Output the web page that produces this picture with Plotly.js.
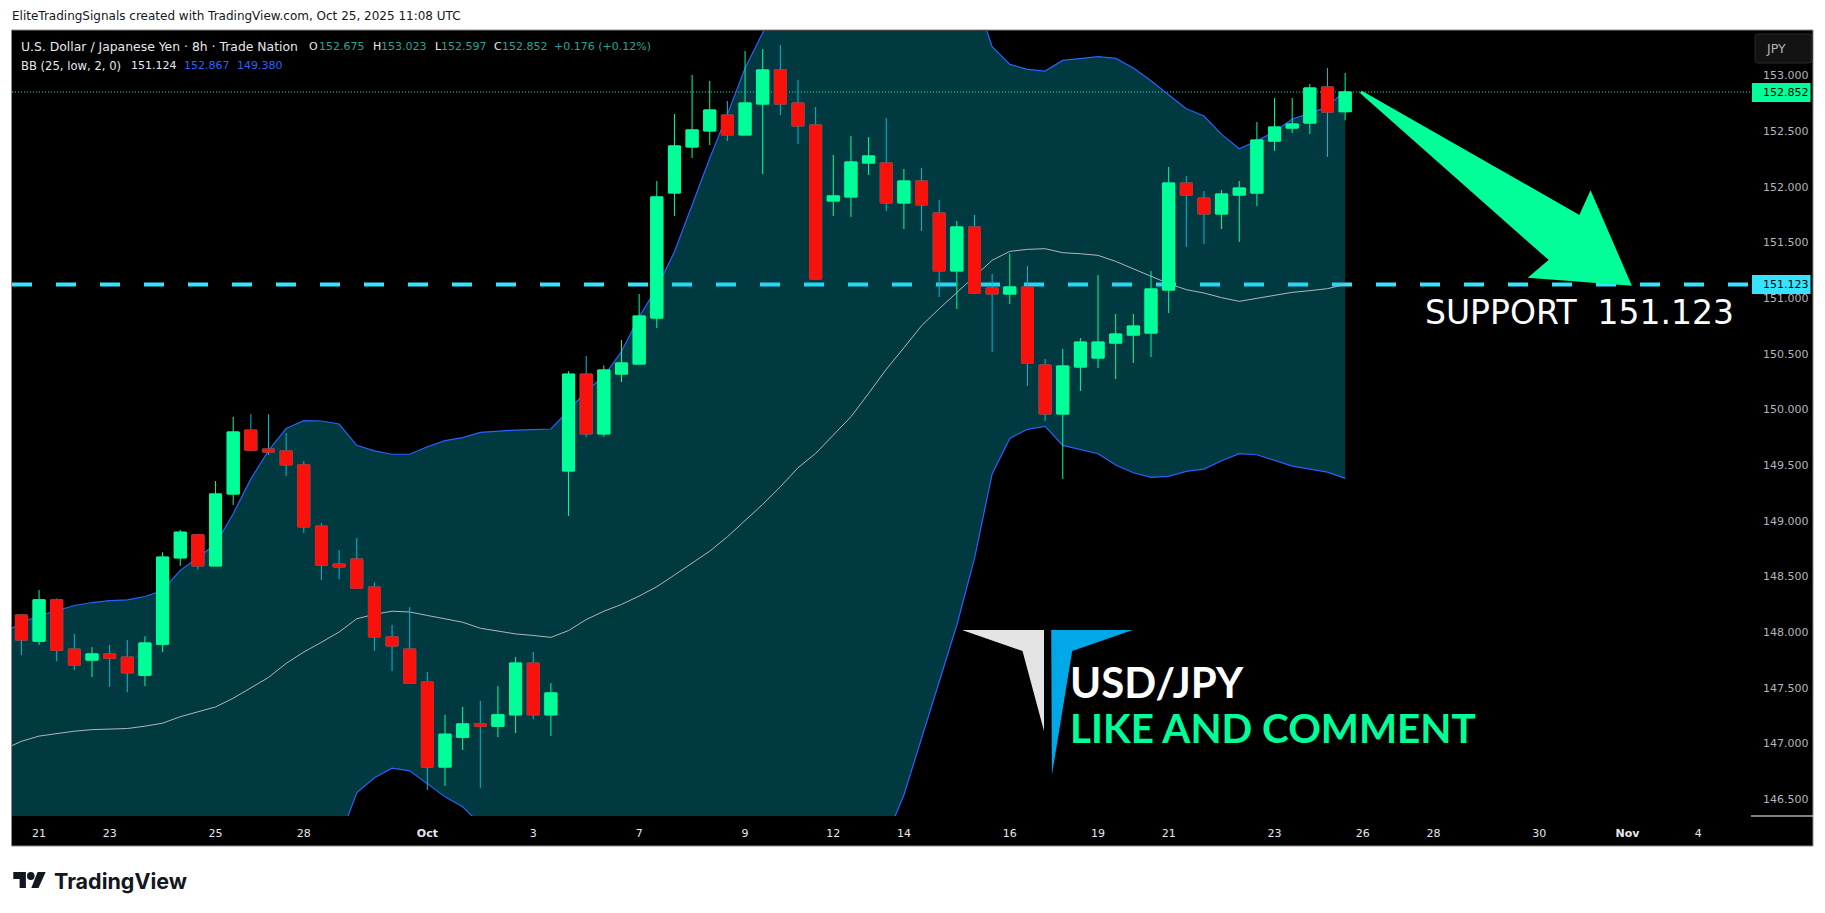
<!DOCTYPE html>
<html>
<head>
<meta charset="utf-8">
<script src="https://cdn.plot.ly/plotly-3.0.1.min.js"></script>
<style>
    html, body { margin: 0; padding: 0; background: #ffffff; }
</style>
</head>
<body>
<div id="chart" style="width:1825px;height:913px"></div>
<script>
'use strict';

// 8h USD/JPY candles
var highs = [148.159,148.377,148.302,147.983,147.864,147.884,147.928,147.962,148.717,148.917,148.880,149.356,149.933,149.957,149.957,149.787,149.536,148.978,148.737,148.846,148.445,148.064,148.224,147.640,147.256,147.327,147.381,147.514,147.775,147.820,147.541,150.344,150.480,150.395,150.623,151.037,152.052,152.654,153.005,152.951,152.771,153.220,153.238,153.274,152.960,152.717,152.286,152.457,152.448,152.618,152.160,152.169,151.882,151.693,151.747,151.217,151.402,151.288,150.453,150.543,150.641,151.207,150.857,150.857,151.243,152.178,152.097,151.962,151.971,152.052,152.582,152.798,152.798,152.924,153.067,153.023];
var opens = [148.153,147.918,148.289,147.847,147.748,147.803,147.775,147.612,147.891,148.666,148.873,148.594,149.240,149.814,149.644,149.627,149.502,148.951,148.611,148.656,148.404,147.956,147.847,147.551,146.787,147.055,147.174,147.154,147.256,147.721,147.256,149.447,150.317,149.780,150.318,150.408,150.821,151.945,152.358,152.502,152.645,152.466,152.744,153.050,152.753,152.556,151.873,151.909,152.214,152.214,151.855,152.052,151.765,151.244,151.639,151.091,151.037,151.100,150.399,149.959,150.381,150.462,150.596,150.668,150.686,151.073,152.034,151.899,151.756,151.926,151.944,152.411,152.528,152.573,152.897,152.675];
var closes = [147.928,148.289,147.837,147.704,147.803,147.765,147.633,147.901,148.673,148.897,148.594,149.240,149.797,149.634,149.617,149.502,148.944,148.601,148.584,148.394,147.956,147.874,147.541,146.787,147.082,147.174,147.154,147.256,147.721,147.256,147.453,150.317,149.780,150.354,150.417,150.839,151.909,152.367,152.511,152.690,152.466,152.753,153.050,152.744,152.547,151.172,151.918,152.223,152.277,151.855,152.052,151.837,151.244,151.639,151.046,151.037,151.100,150.417,149.959,150.390,150.605,150.605,150.677,150.749,151.082,152.034,151.926,151.756,151.935,151.989,152.420,152.537,152.564,152.888,152.672,152.852];
var lows = [147.792,147.884,147.738,147.660,147.595,147.507,147.459,147.514,147.820,148.594,148.560,148.594,149.141,149.634,149.590,149.403,148.890,148.469,148.475,148.391,147.830,147.650,147.541,146.579,146.617,146.940,146.600,147.055,147.093,147.218,147.065,149.043,149.753,149.753,150.246,150.408,150.731,151.738,152.259,152.376,152.412,152.466,152.115,152.645,152.385,151.172,151.738,151.729,152.106,151.783,151.621,151.603,151.010,150.902,151.037,150.515,150.947,150.210,149.896,149.375,150.165,150.372,150.273,150.417,150.471,150.866,151.459,151.486,151.621,151.504,151.827,152.322,152.483,152.474,152.268,152.597];

// Bollinger Bands (25, low, 2, 0), first value is the bar before the left edge
var bbUpper = [147.990,148.085,148.146,148.193,148.238,148.265,148.282,148.289,148.319,148.373,148.554,148.669,148.791,149.063,149.376,149.631,149.828,149.899,149.896,149.869,149.678,149.627,149.597,149.597,149.665,149.719,149.746,149.794,149.807,149.814,149.818,149.824,149.988,150.164,150.300,150.520,150.833,151.090,151.417,151.837,152.256,152.651,153.065,153.385,153.650,153.900,154.050,154.250,154.400,154.500,154.568,154.572,154.450,154.257,154.039,153.740,153.259,153.100,153.055,153.040,153.136,153.154,153.169,153.154,153.067,152.953,152.831,152.702,152.636,152.471,152.342,152.414,152.495,152.609,152.660,152.720,152.867];
var bbBasis = [146.946,147.018,147.065,147.086,147.109,147.123,147.130,147.133,147.154,147.181,147.239,147.283,147.327,147.405,147.500,147.592,147.718,147.820,147.908,148.000,148.119,148.159,148.187,148.180,148.149,148.119,148.088,148.034,148.007,147.983,147.969,147.952,148.013,148.112,148.187,148.248,148.323,148.407,148.512,148.617,148.727,148.856,148.997,149.147,149.305,149.476,149.605,149.770,149.934,150.144,150.360,150.554,150.752,150.905,151.051,151.201,151.340,151.420,151.438,151.444,151.408,151.399,151.384,151.330,151.264,151.192,151.130,151.076,151.046,151.004,150.971,150.998,151.022,151.052,151.067,151.085,151.124];
var bbLower = [145.900,145.951,145.984,145.979,145.980,145.981,145.978,145.977,145.989,145.989,145.924,145.897,145.863,145.747,145.624,145.553,145.608,145.741,145.920,146.131,146.556,146.691,146.777,146.753,146.633,146.519,146.430,146.274,146.207,146.152,146.120,146.080,146.038,146.060,146.074,145.976,145.813,145.724,145.607,145.397,145.198,145.061,144.929,144.909,144.960,145.052,145.160,145.290,145.468,145.788,146.152,146.536,147.054,147.553,148.063,148.662,149.421,149.740,149.821,149.848,149.677,149.641,149.602,149.500,149.431,149.389,149.398,149.443,149.464,149.539,149.602,149.593,149.545,149.491,149.464,149.437,149.380];

// Axes
var priceTicks = [146.5,147,147.5,148,148.5,149,149.5,150,150.5,151,151.5,152,152.5,153];
var dateTickBars = [1,5,11,16,23,29,35,41,46,50,56,61,65,71,76,80,86,91,95];
var dateTickLabels = ['21','23','25','28','<b>Oct</b>','3','7','9','12','14','16','19','21','23','26','28','30','<b>Nov</b>','4'];

var lastPrice = 152.852;
var supportPrice = 151.123;

// Pane position on the page, all overlays are placed relative to it
var PANE = { left: 12, right: 1752, top: 31, bottom: 816 };

var GREEN = '#00ff99';
var RED = '#f9120c';
var WICK_DOWN = '#00bcd4';
var CYAN = '#36e4ff';
var BLUE = '#2962ff';
var TEAL = '#26a69a';
var AXIS_TEXT = '#b2b5be';
var LEGEND_TEXT = '#e6e8ee';

function px (x) {
    return (x - PANE.left) / (PANE.right - PANE.left);
}

function py (y) {
    return 1 - (y - PANE.top) / (PANE.bottom - PANE.top);
}

function polygon (points, color, lineWidth, layer) {
    var path = points.map(function (p, i) {
        return (i === 0 ? 'M' : 'L') + px(p[0]) + ',' + py(p[1]);
    }).join(' ') + ' Z';
    return {
        type: 'path', xref: 'paper', yref: 'paper', path: path, layer: layer || 'above',
        fillcolor: color,
        line: { color: color, width: lineWidth || 0 }
    };
}

function box (x0, y0, x1, y1, fill, lineColor, layer) {
    return {
        type: 'rect', xref: 'paper', yref: 'paper', layer: layer || 'above',
        x0: px(x0), x1: px(x1), y0: py(y0), y1: py(y1),
        fillcolor: fill,
        line: { color: lineColor || fill, width: lineColor ? 1 : 0 }
    };
}

function label (text, x, y, size, color, family, anchor) {
    return {
        text: text, xref: 'paper', yref: 'paper', x: px(x), y: py(y),
        xanchor: anchor || 'left', yanchor: 'middle', showarrow: false, borderpad: 0,
        font: { family: family || 'DejaVu Sans', size: size, color: color }
    };
}

var bars = highs.map(function (v, i) { return i; });
var bandBars = bbUpper.map(function (v, i) { return i - 1; });

var bodyHighs = opens.map(function (o, i) { return Math.max(o, closes[i]); });
var bodyLows = opens.map(function (o, i) { return Math.min(o, closes[i]); });

var traces = [
    {
        type: 'scatter', mode: 'lines', x: bandBars, y: bbUpper, hoverinfo: 'skip',
        line: { color: BLUE, width: 1.2 }
    },
    {
        type: 'scatter', mode: 'lines', x: bandBars, y: bbLower, hoverinfo: 'skip',
        line: { color: BLUE, width: 1.2 },
        fill: 'tonexty', fillcolor: 'rgba(0,188,212,0.3)'
    },
    {
        type: 'scatter', mode: 'lines', x: bandBars, y: bbBasis, hoverinfo: 'skip',
        line: { color: '#b2b5be', width: 1 }
    },
    // wicks, their colour differs from the red bodies
    {
        type: 'candlestick', xaxis: 'x2', yaxis: 'y2', x: bars,
        open: opens, high: highs, low: lows, close: closes,
        whiskerwidth: 0, hoverinfo: 'skip',
        increasing: { line: { color: GREEN, width: 1 }, fillcolor: GREEN },
        decreasing: { line: { color: WICK_DOWN, width: 1 }, fillcolor: WICK_DOWN }
    },
    // bodies on top
    {
        type: 'candlestick', xaxis: 'x2', yaxis: 'y2', x: bars,
        open: opens, high: bodyHighs, low: bodyLows, close: closes,
        whiskerwidth: 0, hoverinfo: 'skip',
        increasing: { line: { color: GREEN, width: 1 }, fillcolor: GREEN },
        decreasing: { line: { color: RED, width: 1 }, fillcolor: RED }
    }
];

var xRange = [(PANE.left - 21.4) / 17.65, (PANE.right - 21.4) / 17.65];
var yRange = [146.347, 153.4];

var shapes = [
    // chart frame
    box(11.5, 30, 1813, 846, '#000000', '#8a8a8a', 'below'),
    // price lines sit under the band fill
    {
        type: 'line', xref: 'paper', yref: 'y', layer: 'below',
        x0: 0, x1: 1, y0: lastPrice, y1: lastPrice,
        line: { color: GREEN, width: 1, dash: '1px,2px' }
    },
    {
        type: 'line', xref: 'paper', yref: 'y', layer: 'below',
        x0: 0, x1: 1, y0: supportPrice, y1: supportPrice,
        line: { color: CYAN, width: 4, dash: '20px,24px' }
    },
    // axis separator
    {
        type: 'line', xref: 'paper', yref: 'paper', layer: 'above',
        x0: px(1751), x1: px(1813), y0: py(816), y1: py(816),
        line: { color: '#ffffff', width: 1 }
    },
    // price tags
    box(1752, 83, 1810.5, 102, GREEN),
    box(1752, 275, 1810.5, 294, CYAN),
    // currency button
    {
        type: 'path', xref: 'paper', yref: 'paper', layer: 'above',
        path: 'M' + px(1758) + ',' + py(34) + ' L' + px(1809) + ',' + py(34) +
            ' Q' + px(1812) + ',' + py(34) + ' ' + px(1812) + ',' + py(37) +
            ' L' + px(1812) + ',' + py(60) +
            ' Q' + px(1812) + ',' + py(63) + ' ' + px(1809) + ',' + py(63) +
            ' L' + px(1758) + ',' + py(63) +
            ' Q' + px(1755) + ',' + py(63) + ' ' + px(1755) + ',' + py(60) +
            ' L' + px(1755) + ',' + py(37) +
            ' Q' + px(1755) + ',' + py(34) + ' ' + px(1758) + ',' + py(34) + ' Z',
        fillcolor: '#131313',
        line: { color: '#2a2a2a', width: 1 }
    },
    // drawn arrow
    polygon([[1361, 92], [1580, 217], [1590.5, 194], [1629.5, 284], [1531.5, 276.5], [1551, 260]], GREEN, 3),
    // watermark logo
    polygon([[962, 630], [1044, 630], [1044, 731], [1022.5, 651]], '#e4e4e4'),
    polygon([[1051.2, 630], [1132.7, 630], [1072.2, 651], [1051.9, 775]], '#00a8e8'),
    // TradingView mark
    polygon([[13.3, 872], [25.9, 872], [25.9, 888], [19.6, 888], [19.6, 878.9], [13.3, 878.9]], '#131722'),
    {
        type: 'circle', xref: 'paper', yref: 'paper', layer: 'above',
        x0: px(27), x1: px(34.6), y0: py(872), y1: py(880),
        fillcolor: '#131722', line: { width: 0 }
    },
    polygon([[38.5, 888], [31.3, 888], [37.6, 872], [45.7, 872]], '#131722')
];

var annotations = [
    label('EliteTradingSignals created with TradingView.com, Oct 25, 2025 11:08 UTC', 11, 16.5, 12, '#131722'),

    label('U.S. Dollar / Japanese Yen · 8h · Trade Nation', 20, 46.5, 12.4, LEGEND_TEXT),
    label('O', 308, 46.5, 11, LEGEND_TEXT),
    label('152.675', 318, 46.5, 11, TEAL),
    label('H', 371.5, 46.5, 11, LEGEND_TEXT),
    label('153.023', 380, 46.5, 11, TEAL),
    label('L', 433.5, 46.5, 11, LEGEND_TEXT),
    label('152.597', 439.5, 46.5, 11, TEAL),
    label('C', 492.5, 46.5, 11, LEGEND_TEXT),
    label('152.852', 501, 46.5, 11, TEAL),
    label('+0.176 (+0.12%)', 552.5, 46.5, 11, TEAL),

    label('BB (25, low, 2, 0)', 20, 65.5, 11.6, LEGEND_TEXT),
    label('151.124', 130, 65.5, 11, LEGEND_TEXT),
    label('152.867', 183, 65.5, 11, BLUE),
    label('149.380', 236, 65.5, 11, BLUE),

    label('JPY', 1765, 48.5, 12.5, AXIS_TEXT),
    label('152.852', 1762, 92.5, 11, '#000000'),
    label('151.123', 1762, 284.5, 11, '#000000'),

    label('SUPPORT  151.123', 1424, 313, 33, '#ffffff'),
    label('<b>USD/JPY</b>', 1069, 682, 42, '#ffffff', 'Lato'),
    label('<b>LIKE AND COMMENT</b>', 1069, 727, 40.4, GREEN, 'Lato'),

    label('<b>TradingView</b>', 52.5, 880.5, 21.5, '#131722', 'Inter')
];

var layout = {
    width: 1825,
    height: 913,
    autosize: false,
    showlegend: false,
    dragmode: false,
    paper_bgcolor: '#ffffff',
    plot_bgcolor: '#000000',
    boxgap: 0.15,
    boxgroupgap: 0.2,
    margin: { l: PANE.left, r: 1825 - PANE.right, t: PANE.top, b: 913 - PANE.bottom, pad: 0 },
    font: { family: 'DejaVu Sans', size: 11, color: AXIS_TEXT },
    xaxis: {
        range: xRange,
        tickmode: 'array',
        tickvals: dateTickBars,
        ticktext: dateTickLabels,
        tickangle: 0,
        showgrid: false,
        zeroline: false,
        showline: false,
        ticks: '',
        ticklabelstandoff: 9,
        tickfont: { family: 'DejaVu Sans', size: 11, color: '#e6e8ee' },
        rangeslider: { visible: false }
    },
    yaxis: {
        range: yRange,
        side: 'right',
        tickmode: 'array',
        tickvals: priceTicks,
        ticktext: priceTicks.map(function (v) { return v.toFixed(3); }),
        showgrid: false,
        zeroline: false,
        showline: false,
        ticks: '',
        ticklabelstandoff: 10,
        tickfont: { family: 'DejaVu Sans', size: 11, color: AXIS_TEXT }
    },
    xaxis2: {
        overlaying: 'x', anchor: 'y2', range: xRange, visible: false,
        rangeslider: { visible: false }
    },
    yaxis2: {
        overlaying: 'y', anchor: 'x2', range: yRange, visible: false
    },
    shapes: shapes,
    annotations: annotations
};

Plotly.newPlot('chart', traces, layout, { displayModeBar: false, staticPlot: true });
</script>
</body>
</html>
